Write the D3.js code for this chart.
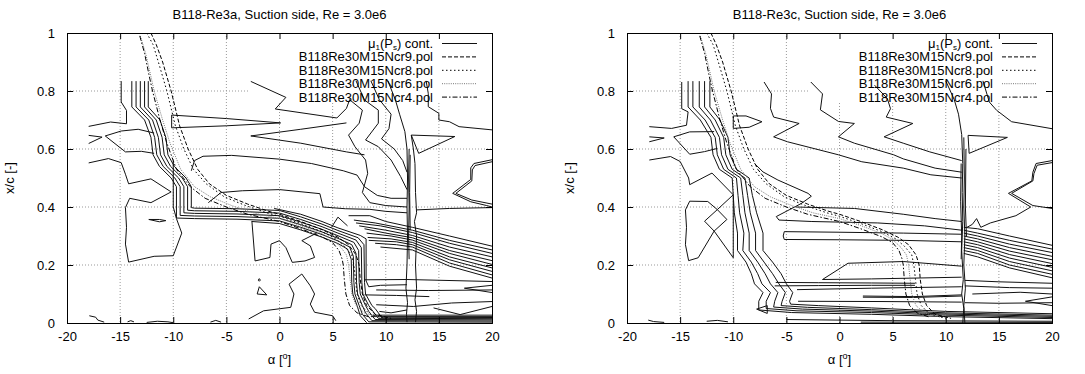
<!DOCTYPE html>
<html>
<head>
<meta charset="utf-8">
<script src="https://cdn.jsdelivr.net/npm/d3@7"></script>
<style>
body { margin: 0; background: #fff; }
text { font-family: "Liberation Sans", Arial, Helvetica, sans-serif; font-size: 13px; fill: #000; }
</style>
</head>
<body>
<svg id="chart" width="1085" height="374"></svg>
<script>
// ---- tick labels / titles ----
const xTicks = [-20, -15, -10, -5, 0, 5, 10, 15, 20];
const yTicks = [0, 0.2, 0.4, 0.6, 0.8, 1];
const titles = ["B118-Re3a, Suction side, Re = 3.0e6", "B118-Re3c, Suction side, Re = 3.0e6"];
const legendNames = ["B118Re30M15Ncr9.pol", "B118Re30M15Ncr8.pol", "B118Re30M15Ncr6.pol", "B118Re30M15Ncr4.pol"];

// ---- transition curves from the .pol files (alpha, x/c), same in both panels ----
const ncr9 = [[-12.1,1.0],[-11.6,0.96],[-11.0,0.9],[-10.2,0.8],[-9.4,0.68],[-8.6,0.6],[-7.7,0.53],[-6.6,0.48],[-5,0.44],[-3,0.41],[-1,0.385],[0,0.375],[2,0.35],[4,0.322],[5.5,0.296],[6.5,0.27],[7.2,0.235],[7.5,0.2],[7.6,0.15],[7.8,0.1],[8.2,0.06],[9.0,0.03],[10.5,0.016]];
const ncr8 = [[-12.5,1.0],[-11.9,0.96],[-11.4,0.9],[-10.6,0.8],[-9.8,0.68],[-9.0,0.6],[-8.1,0.53],[-6.9,0.48],[-5.2,0.435],[-3.2,0.405],[-1.2,0.38],[0,0.368],[2,0.343],[4,0.315],[5.3,0.29],[6.1,0.265],[6.8,0.235],[7.0,0.2],[7.15,0.15],[7.3,0.1],[7.7,0.06],[8.5,0.03],[10,0.016]];
const ncr6 = [[-13.1,0.99],[-12.6,0.93],[-12.1,0.85],[-11.8,0.8],[-11.0,0.7],[-10.3,0.62],[-9.3,0.53],[-8.0,0.47],[-6.5,0.435],[-4.5,0.405],[-2.5,0.38],[0,0.36],[2,0.336],[4,0.308],[5.0,0.288],[5.8,0.26],[6.3,0.235],[6.5,0.2],[6.65,0.15],[6.8,0.1],[7.2,0.06],[8.0,0.035],[9.5,0.02]];
const ncr4 = [[-13.15,0.99],[-12.7,0.93],[-12.25,0.85],[-11.95,0.8],[-11.25,0.7],[-10.6,0.62],[-9.7,0.53],[-8.4,0.47],[-7,0.43],[-5,0.4],[-3,0.375],[0,0.35],[2,0.325],[4,0.297],[5,0.277],[5.6,0.25],[5.9,0.22],[6.0,0.2],[6.1,0.15],[6.25,0.1],[6.6,0.06],[7.3,0.035],[8.5,0.02]];

// ---- mu1(Ps) contour lines, Re3a (left) ----
const contoursA = [
  [[-17.96,0.678],[-15.9,0.693],[-14.4,0.687],[-14.4,0.733],[-14.9,0.762],[-14.9,0.834]],
  [[-17.96,0.647],[-16.7,0.641],[-17.96,0.619]],
  [[-11.8,0.655],[-13.3,0.668],[-14.9,0.662],[-16.4,0.645],[-14.5,0.59],[-13.0,0.592],[-11.8,0.585]],
  [[-17.96,0.552],[-16.1,0.567],[-14.9,0.553],[-14.5,0.513],[-14.2,0.48],[-12.1,0.497],[-10.2,0.452]],
  [[-10.2,0.452],[-12.1,0.415],[-14.1,0.43],[-14.5,0.398],[-14.4,0.33],[-14.5,0.272],[-14.2,0.21],[-11.8,0.23],[-10.0,0.232],[-9.2,0.31],[-9.7,0.36],[-10.0,0.4],[-10.0,0.56]],
  [[-12.3,0.357],[-11.3,0.357],[-10.7,0.353],[-11.3,0.349],[-12.3,0.357]],
  [[-17.9,0.025],[-17.3,0.02],[-17.1,0.01],[-16.5,0.003]],
  [[-14.3,0.004],[-14,0.008],[-13.7,0.004]],
  [[-12.5,0.002],[-11.5,0.006],[-10.5,0.004],[-10,0.001]],
  [[-6.5,0.003],[-6,0.009],[-5.5,0.003]],
  [[-13.9,0.834],[-13.9,0.745],[-12.7,0.70],[-12.1,0.64],[-11.9,0.58],[-11.3,0.54],[-10.2,0.50],[-9.7,0.47],[-9.7,0.362],[-8,0.36],[-4,0.358],[0,0.352],[2,0.33],[4,0.305],[5.5,0.283],[6.6,0.262],[6.95,0.23],[7.0,0.14],[7.1,0.10],[7.5,0.06],[7.8,0.03],[8.4,0.004],[20,0.003]],
  [[-13.5,0.834],[-13.5,0.745],[-12.3,0.70],[-11.75,0.64],[-11.55,0.58],[-10.95,0.54],[-9.85,0.50],[-9.35,0.47],[-9.35,0.371],[-8,0.369],[-4,0.367],[0,0.361],[2,0.339],[4,0.314],[5.5,0.292],[6.8,0.27],[7.2,0.24],[7.25,0.14],[7.35,0.10],[7.8,0.06],[8.1,0.035],[8.7,0.008],[20,0.007]],
  [[-13.1,0.834],[-13.1,0.745],[-11.95,0.70],[-11.4,0.64],[-11.2,0.58],[-10.6,0.54],[-9.5,0.50],[-9.0,0.47],[-9.0,0.38],[-8,0.378],[-4,0.376],[0,0.37],[2,0.348],[4,0.323],[5.5,0.301],[7.0,0.278],[7.45,0.25],[7.5,0.14],[7.6,0.10],[8.1,0.06],[8.4,0.04],[9.0,0.012],[20,0.011]],
  [[-12.7,0.834],[-12.7,0.745],[-11.6,0.70],[-11.05,0.64],[-10.85,0.58],[-10.25,0.54],[-9.15,0.50],[-8.65,0.47],[-8.65,0.389],[-8,0.387],[-4,0.385],[0,0.379],[2,0.357],[4,0.332],[5.5,0.31],[7.2,0.286],[7.7,0.26],[7.75,0.14],[7.85,0.10],[8.4,0.06],[8.7,0.045],[9.3,0.016],[20,0.015]],
  [[-12.35,0.834],[-12.35,0.745],[-11.25,0.70],[-10.7,0.64],[-10.5,0.58],[-9.9,0.54],[-8.8,0.50],[-8.3,0.47],[-8.3,0.398],[-8,0.396],[-4,0.394],[0,0.388],[2,0.366],[4,0.341],[5.5,0.319],[7.4,0.294],[7.95,0.27],[8.0,0.14],[8.1,0.10],[8.7,0.06],[9.0,0.05],[9.6,0.02],[20,0.019]],
  [[-2.6,0.35],[0,0.343],[2,0.321],[4,0.296],[5.5,0.274],[6.4,0.255],[6.75,0.22],[6.8,0.14],[6.9,0.10],[7.3,0.06],[7.6,0.025],[8.2,0.001]],
  [[-0.5,0.395],[2,0.375],[4,0.35],[5.5,0.328],[7.6,0.302],[8.15,0.29],[8.15,0.145],[8.4,0.125],[9.5,0.13],[12.0,0.132]],
  [[-10.15,0.717],[-5,0.705],[0.1,0.69],[-5,0.68],[-10.15,0.673],[-10.15,0.717]],
  [[6.3,0.69],[2,0.668],[-2.7,0.645],[2,0.62],[6.3,0.59],[8,0.58]],
  [[-8.3,0.525],[-8.0,0.56],[-7.2,0.575],[-4.5,0.578],[0,0.565],[3,0.55],[6,0.525],[7.3,0.51],[8.0,0.47],[9.2,0.44],[10.5,0.43],[12,0.43]],
  [[-6.7,0.415],[-5.5,0.45],[-3.5,0.456],[0,0.46],[3.8,0.446],[4.1,0.4],[6.2,0.394],[8.5,0.392],[10,0.385],[12,0.38]],
  [[-2.6,0.352],[-2.3,0.214],[-0.9,0.226],[-0.8,0.272],[0,0.284],[0.6,0.26],[1.2,0.209],[2.4,0.214],[3.3,0.226],[2.9,0.266],[2.1,0.284],[3.5,0.31]],
  [[4.9,0.33],[5.5,0.365],[6.4,0.335]],
  [[-2.0,0.148],[-1.9,0.153],[-1.8,0.148],[-1.9,0.144],[-2.0,0.148]],
  [[-2.1,0.1],[-1.2,0.097],[-1.9,0.125],[-2.1,0.1]],
  [[-2.9,0.014],[-1.5,0.042],[1.06,0.054],[1.36,0.1],[0.9,0.134],[2.1,0.169],[2.9,0.128],[3.3,0.1],[2.9,0.065],[3.3,0.037],[5.0,0.025],[5.3,0.008]],
  [[-2.7,0.833],[0.6,0.778],[-0.4,0.738],[5.4,0.707],[6.3,0.74],[6.6,0.77]],
  [[6.6,0.77],[7.8,0.734],[7.5,0.689],[6.5,0.648],[7.1,0.608],[8.1,0.562],[8.3,0.516],[7.8,0.45],[8.5,0.415],[10,0.405],[12,0.40]],
  [[7.2,0.835],[8.0,0.769],[9.3,0.734],[9.3,0.689],[8.1,0.631],[9.3,0.608],[10.5,0.562],[11.4,0.505],[12.0,0.46]],
  [[8.6,0.835],[9.4,0.77],[10.5,0.72],[10.3,0.67],[9.6,0.635],[10.8,0.6],[11.6,0.56],[12.0,0.52]],
  [[10.2,0.835],[10.9,0.77],[11.3,0.72],[11.8,0.66]],
  [[11.8,0.66],[12.0,0.6],[12.05,0.5],[12.0,0.4],[12.05,0.3],[12.0,0.2],[11.9,0.12],[12.05,0.07],[11.95,0.03],[12.0,0.003]],
  [[12.2,0.6],[12.15,0.5],[12.2,0.4],[12.15,0.3],[12.2,0.22]],
  [[12.3,0.58],[12.25,0.45],[12.3,0.32]],
  [[12.4,0.648],[12.6,0.6],[12.75,0.55],[12.8,0.45],[12.9,0.38],[12.7,0.35],[12.9,0.3],[12.8,0.2],[12.9,0.12],[12.75,0.08],[12.9,0.04],[12.8,0.003]],
  [[12.4,0.648],[16.5,0.643],[13.1,0.585],[12.4,0.648]],
  [[13.8,0.835],[14.0,0.792],[14.0,0.746],[15.0,0.723],[15.0,0.70],[16.0,0.694],[16.9,0.677],[20,0.666]],
  [[20,0.563],[18.3,0.55],[18.0,0.535],[18.0,0.495],[16.3,0.447],[18.0,0.418],[19.5,0.405],[20,0.40]],
  [[20,0.556],[18.4,0.543],[18.15,0.528],[18.1,0.49],[16.6,0.447],[18.1,0.424],[20,0.41]],
  [[12.9,0.39],[16,0.395],[20,0.398]],
  [[6.5,0.37],[8.5,0.37],[10,0.35],[12.5,0.33],[16,0.30],[20,0.265]],
  [[7.0,0.355],[9,0.345],[12.5,0.32],[16,0.285],[20,0.252]],
  [[7.2,0.345],[9.5,0.335],[12.5,0.312],[16,0.275],[20,0.24]],
  [[7.5,0.335],[10,0.32],[12.5,0.302],[16,0.262],[20,0.228]],
  [[8.0,0.325],[10,0.31],[12.5,0.294],[16,0.25],[20,0.215]],
  [[8.2,0.31],[10.5,0.30],[12.5,0.286],[16,0.24],[20,0.202]],
  [[8.3,0.295],[10.5,0.29],[12.5,0.278],[16,0.228],[20,0.19]],
  [[8.4,0.285],[11,0.28],[12.5,0.27],[16,0.218],[20,0.178]],
  [[9,0.275],[11,0.27],[12.5,0.262],[16,0.207],[20,0.166]],
  [[9.5,0.262],[12.5,0.252],[16,0.196],[20,0.155]],
  [[8.0,0.149],[12,0.15],[20,0.143]],
  [[9.1,0.114],[14,0.112],[20,0.114]],
  [[8.0,0.097],[11,0.095],[14.1,0.091]],
  [[20,0.13],[17.4,0.12],[20,0.105]],
  [[9.1,0.063],[12.6,0.057],[16.2,0.069],[20,0.074]],
  [[14.5,0.052],[17,0.029],[20,0.057]],
  [[9.4,0.04],[10.5,0.035],[12,0.045]],
  [[8.6,0.022],[20,0.022]],
  [[8.8,0.027],[20,0.027]]
];

// ---- mu1(Ps) contour lines, Re3c (right) ----
const contoursC = [
  [[-17.9,0.677],[-15.8,0.671],[-14.4,0.682],[-14.25,0.728],[-14.85,0.739],[-14.85,0.831]],
  [[-17.9,0.642],[-16.5,0.638],[-17.9,0.625]],
  [[-11.8,0.66],[-14.1,0.659],[-15.6,0.642],[-14.1,0.582],[-12.7,0.591],[-11.5,0.602]],
  [[-17.9,0.562],[-15.9,0.574],[-15.0,0.557],[-14.2,0.5],[-14.1,0.477],[-12.0,0.517],[-10.0,0.442]],
  [[-14.1,0.42],[-12.4,0.419],[-11.5,0.391],[-10.6,0.357],[-11.8,0.317],[-12.7,0.351],[-11.5,0.391],[-10.0,0.442]],
  [[-14.1,0.42],[-14.5,0.39],[-14.4,0.33],[-14.5,0.27],[-14.2,0.215],[-13.3,0.225],[-11.8,0.317],[-10.0,0.225],[-10.0,0.44]],
  [[-18,0.01],[-17.5,0.005],[-16.5,0.002]],
  [[-12.5,0.006],[-11.5,0.009],[-10.5,0.004]],
  [[-7.8,0.048],[-6.8,0.06],[-6.8,0.033],[-7.8,0.048]],
  [[-14.25,0.834],[-14.25,0.745],[-13.1,0.70],[-12.1,0.64],[-11.9,0.58],[-11.3,0.53],[-10.1,0.50],[-10.0,0.44],[-9.9,0.38],[-9.6,0.31],[-9.6,0.25],[-8.8,0.21],[-8.3,0.17],[-8.0,0.135],[-7.2,0.105],[-7.6,0.075],[-7.6,0.045],[-4.5,0.036],[3,0.03],[10,0.022],[20,0.015]],
  [[-13.8,0.834],[-13.8,0.745],[-12.65,0.70],[-11.7,0.64],[-11.5,0.58],[-10.9,0.53],[-9.7,0.50],[-9.55,0.44],[-9.4,0.38],[-9.0,0.31],[-9.1,0.25],[-8.3,0.21],[-7.7,0.17],[-7.3,0.135],[-6.5,0.105],[-6.9,0.075],[-6.9,0.05],[-4,0.042],[3,0.036],[10,0.027],[20,0.019]],
  [[-13.2,0.834],[-13.2,0.745],[-12.15,0.70],[-11.3,0.64],[-11.1,0.58],[-10.5,0.53],[-9.3,0.50],[-9.1,0.44],[-8.9,0.38],[-8.5,0.31],[-8.5,0.25],[-7.7,0.21],[-7.0,0.17],[-6.5,0.135],[-5.8,0.105],[-6.1,0.075],[-6.2,0.055],[-3.5,0.048],[3,0.041],[10,0.031],[20,0.023]],
  [[-12.7,0.834],[-12.7,0.745],[-11.7,0.70],[-10.9,0.64],[-10.7,0.58],[-10.1,0.53],[-8.9,0.50],[-8.65,0.44],[-8.4,0.38],[-7.9,0.31],[-7.9,0.25],[-7.1,0.21],[-6.3,0.17],[-5.7,0.135],[-5.1,0.105],[-5.4,0.075],[-5.5,0.06],[-3,0.054],[3,0.046],[10,0.035],[20,0.027]],
  [[-12.2,0.834],[-12.2,0.745],[-11.25,0.70],[-10.5,0.64],[-10.3,0.58],[-9.7,0.53],[-8.5,0.50],[-8.2,0.44],[-7.8,0.38],[-7.2,0.31],[-7.2,0.25],[-6.3,0.21],[-5.5,0.17],[-5.0,0.135],[-4.4,0.105],[-4.7,0.075],[-4.6,0.065],[-2,0.06],[3,0.052],[10,0.04],[20,0.032]],
  [[-10.0,0.714],[-8.8,0.714],[-7.3,0.694],[-8.5,0.675],[-10.0,0.671],[-10.0,0.714]],
  [[-7.1,0.831],[-6.4,0.79],[-6.5,0.74],[-6.2,0.71],[-3.8,0.688],[-6.2,0.642],[-4.9,0.625],[-0.1,0.58],[2.1,0.556],[6.0,0.534],[8.6,0.511],[11.5,0.5]],
  [[-2.7,0.831],[-1.6,0.79],[-1.8,0.735],[-0.1,0.695],[1.4,0.688],[-0.1,0.642],[1.4,0.62],[5.1,0.58],[6.0,0.566],[9.0,0.534],[11.5,0.52]],
  [[3.3,0.82],[4.5,0.774],[4.8,0.739],[4.4,0.71],[6.9,0.688],[4.2,0.642],[6.0,0.62],[8.5,0.59],[10.5,0.57],[11.5,0.56]],
  [[10.0,0.835],[10.8,0.77],[11.2,0.72],[11.5,0.65],[11.6,0.55],[11.55,0.45],[11.6,0.35],[11.5,0.25],[11.65,0.15],[11.5,0.1],[11.7,0.05],[11.6,0.0]],
  [[11.7,0.64],[11.75,0.5],[11.7,0.4],[11.8,0.3],[11.7,0.2],[11.85,0.12],[11.7,0.06],[11.8,0.0]],
  [[11.45,0.55],[11.4,0.42],[11.5,0.3],[11.45,0.22]],
  [[11.9,0.6],[11.85,0.4],[11.95,0.3]],
  [[12.1,0.647],[15.8,0.64],[12.2,0.585],[12.1,0.647]],
  [[13.5,0.835],[14.1,0.762],[14.8,0.733],[15.2,0.722],[16.2,0.694],[20,0.67]],
  [[20,0.56],[18.5,0.55],[18.2,0.52],[18.1,0.49],[15.9,0.447],[18.0,0.40],[16.6,0.37],[14.2,0.345],[13.3,0.33],[12.9,0.36],[12.5,0.34],[12.0,0.33]],
  [[20,0.553],[18.6,0.544],[18.3,0.515],[18.2,0.49],[16.2,0.447],[18.2,0.405],[20,0.395]],
  [[-8.0,0.55],[-7.2,0.521],[-5.8,0.493],[-2.96,0.447],[-2.65,0.437],[-3.6,0.412],[-5.95,0.367],[-5.7,0.355],[-2.6,0.35],[3.6,0.345],[8,0.335],[11.5,0.32]],
  [[-4.1,0.4],[1.4,0.395],[6,0.375],[9,0.36],[11.5,0.35]],
  [[11.5,0.306],[6,0.31],[0,0.313],[-5.2,0.315],[-5.3,0.30],[-5.2,0.288],[0,0.287],[6,0.285],[11.5,0.28]],
  [[11.5,0.196],[6,0.212],[0.8,0.206],[-1.6,0.15],[3,0.152],[11.5,0.158]],
  [[-6.0,0.14],[-2,0.139],[3,0.138],[7.1,0.137]],
  [[-6.1,0.128],[-2,0.129],[3,0.13],[7.1,0.13]],
  [[-4.0,0.115],[3,0.12],[11.5,0.125]],
  [[2.2,0.093],[7,0.091],[11.5,0.097]],
  [[2.2,0.089],[7,0.088],[11.5,0.093]],
  [[-3.9,0.075],[4,0.074],[11.5,0.072]],
  [[11.7,0.33],[13,0.325],[16,0.3],[20,0.268]],
  [[11.7,0.32],[13,0.31],[16,0.285],[20,0.255]],
  [[11.7,0.31],[13,0.3],[16,0.272],[20,0.243]],
  [[11.7,0.3],[13,0.29],[16,0.26],[20,0.23]],
  [[11.7,0.29],[13,0.28],[16,0.248],[20,0.218]],
  [[11.7,0.28],[13,0.27],[16,0.236],[20,0.205]],
  [[11.7,0.27],[13,0.26],[16,0.224],[20,0.192]],
  [[11.7,0.26],[13,0.25],[16,0.212],[20,0.18]],
  [[11.7,0.25],[13,0.24],[16,0.2],[20,0.168]],
  [[11.7,0.24],[13,0.228],[16,0.19],[20,0.156]],
  [[11.8,0.147],[15,0.142],[20,0.137]],
  [[11.8,0.128],[16,0.122],[20,0.12]],
  [[12.5,0.1],[17,0.106],[20,0.1]],
  [[20,0.09],[17.5,0.075],[20,0.06]],
  [[11.8,0.07],[15,0.068],[20,0.07]],
  [[-5,0.012],[5,0.008],[20,0.006]],
  [[2,0.003],[20,0.002]]
];

// ---- drawing ----
const svg = d3.select("#chart");
const plotW = 425, plotH = 290, plotTop = 33;
const panelLeft = [67, 627];
const contourSets = [contoursA, contoursC];
const polar = [
  {data: ncr9, color: "#000", dash: "4,2", width: 1},
  {data: ncr8, color: "#000", dash: "1.5,2.5", width: 1},
  {data: ncr6, color: "#777", dash: "1,1.2", width: 1},
  {data: ncr4, color: "#000", dash: "5,2,1.5,2", width: 1}
];

panelLeft.forEach(function(left, p) {
  const x = d3.scaleLinear().domain([-20, 20]).range([0, plotW]);
  const y = d3.scaleLinear().domain([0, 1]).range([plotH, 0]);
  const g = svg.append("g").attr("transform", "translate(" + left + "," + plotTop + ")");

  g.append("clipPath").attr("id", "clip" + p)
    .append("rect").attr("width", plotW).attr("height", plotH);

  // grid (kept out of the key area, like gnuplot)
  const keyLeft = plotW - 243, keyBottom = 70;
  xTicks.slice(1, -1).forEach(function(t) {
    const y0 = x(t) > keyLeft ? keyBottom : 0;
    g.append("line").attr("x1", x(t)).attr("x2", x(t)).attr("y1", y0).attr("y2", plotH)
      .attr("stroke", "#999").attr("stroke-dasharray", "1,2");
  });
  yTicks.slice(1, -1).forEach(function(t) {
    const x1 = y(t) < keyBottom ? keyLeft : plotW;
    g.append("line").attr("x1", 0).attr("x2", x1).attr("y1", y(t)).attr("y2", y(t))
      .attr("stroke", "#999").attr("stroke-dasharray", "1,2");
  });

  const line = d3.line().x(d => x(d[0])).y(d => y(d[1]));
  const body = g.append("g").attr("clip-path", "url(#clip" + p + ")");

  body.selectAll("path.cont").data(contourSets[p]).enter().append("path")
    .attr("class", "cont").attr("d", line)
    .attr("fill", "none").attr("stroke", "#111").attr("stroke-width", 1).attr("stroke-linejoin", "round");

  polar.forEach(function(s) {
    body.append("path").attr("d", line(s.data)).attr("fill", "none")
      .attr("stroke", s.color).attr("stroke-width", s.width).attr("stroke-dasharray", s.dash);
  });

  // axes with inward ticks, mirrored
  g.append("g").attr("transform", "translate(0," + plotH + ")")
    .call(d3.axisBottom(x).tickValues(xTicks).tickSize(-6).tickPadding(9).tickFormat(d => String(d)));
  g.append("g").call(d3.axisTop(x).tickValues(xTicks).tickSize(-6).tickFormat(""));
  g.append("g")
    .call(d3.axisLeft(y).tickValues(yTicks).tickSize(-6).tickPadding(12).tickFormat(d => String(d)));
  g.append("g").attr("transform", "translate(" + plotW + ",0)")
    .call(d3.axisRight(y).tickValues(yTicks).tickSize(-6).tickFormat(""));
  g.selectAll(".domain").attr("stroke", "#000");
  g.selectAll(".tick line").attr("stroke", "#000");
  g.selectAll(".tick text").style("font-size", "13px").style("font-family", "'Liberation Sans', Arial, sans-serif");

  // title and axis labels
  g.append("text").attr("x", plotW / 2).attr("y", -14).attr("text-anchor", "middle").text(titles[p]);
  const xl = g.append("text").attr("x", plotW / 2).attr("y", plotH + 41).attr("text-anchor", "middle");
  xl.append("tspan").text("α [");
  xl.append("tspan").attr("dy", -5).style("font-size", "9px").text("o");
  xl.append("tspan").attr("dy", 5).text("]");
  g.append("text").attr("transform", "translate(-53," + plotH / 2 + ") rotate(-90)")
    .attr("text-anchor", "middle").text("x/c [-]");

  // key
  const keyTextX = plotW - 59, s0 = plotW - 50, s1 = plotW - 15;
  const rowY = i => 10.5 + 13.4 * i;
  const k0 = g.append("text").attr("x", keyTextX).attr("y", rowY(0) + 4).attr("text-anchor", "end");
  k0.append("tspan").text("μ");
  k0.append("tspan").attr("dy", 2).style("font-size", "8px").text("1");
  k0.append("tspan").attr("dy", -2).text("(P");
  k0.append("tspan").attr("dy", 2).style("font-size", "8px").text("s");
  k0.append("tspan").attr("dy", -2).text(") cont.");
  g.append("line").attr("x1", s0).attr("x2", s1).attr("y1", rowY(0)).attr("y2", rowY(0))
    .attr("stroke", "#111").attr("stroke-width", 1.2);
  legendNames.forEach(function(name, i) {
    const ry = rowY(i + 1);
    g.append("text").attr("x", keyTextX).attr("y", ry + 4.5).attr("text-anchor", "end").text(name);
    g.append("line").attr("x1", s0).attr("x2", s1).attr("y1", ry).attr("y2", ry)
      .attr("stroke", polar[i].color).attr("stroke-dasharray", polar[i].dash);
  });
});
</script>
</body>
</html>
